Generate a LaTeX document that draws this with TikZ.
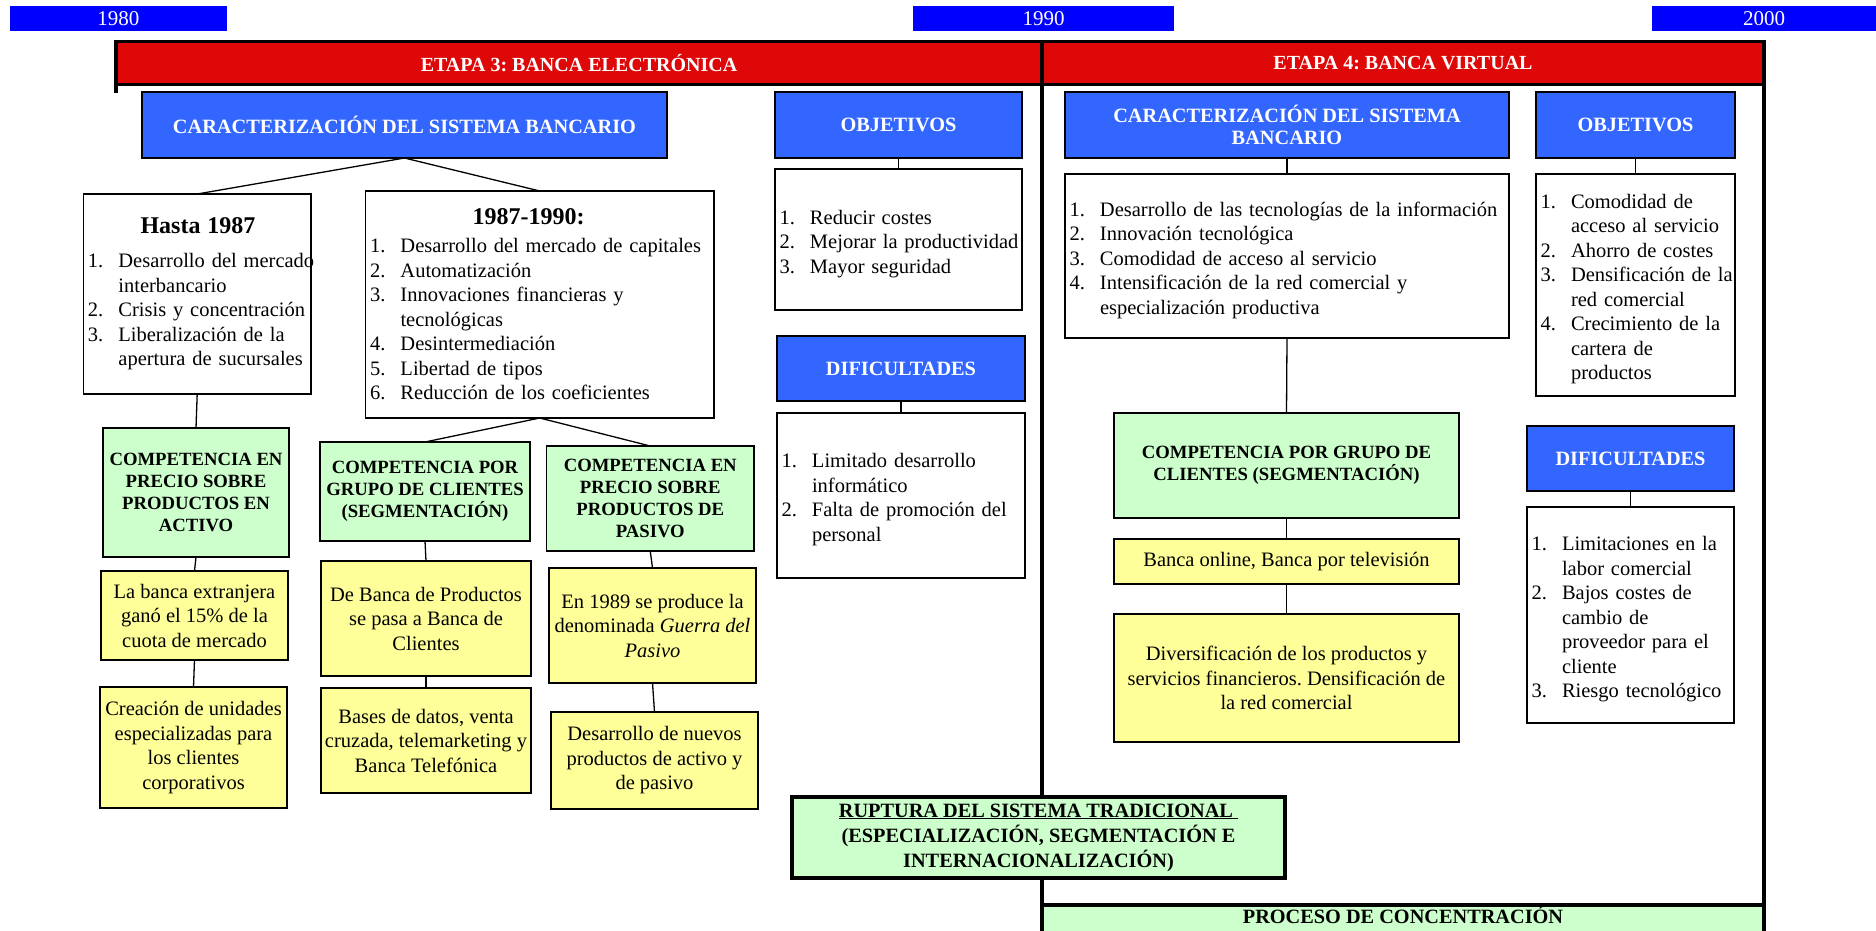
\documentclass[tikz,border=0pt]{standalone}
\usepackage{fontspec}
\setmainfont{Liberation Serif}
\usetikzlibrary{calc}
\frenchspacing

\definecolor{yearBlue}{RGB}{0,0,255}
\definecolor{headBlue}{RGB}{51,102,255}
\definecolor{stageRed}{RGB}{222,8,8}
\definecolor{compGreen}{RGB}{204,255,204}
\definecolor{noteYellow}{RGB}{255,255,153}

\newcommand{\bodyfont}{\fontsize{20.5}{24.5}\selectfont}
\newcommand{\titlefont}{\fontsize{24}{28}\selectfont\bfseries}
% numbered item and continuation line of a list
\newcommand{\itm}[2]{\mbox{\makebox[30.5pt][l]{#1}#2}}
\newcommand{\cnt}[1]{\mbox{\hspace*{30.5pt}#1}}
% taller first line for the plain lists
\newcommand{\toppad}{\rule{0pt}{22.5pt}}

% box placed by its corners: name, style, x1, y1, x2, y2, text
\newcommand{\bx}[7]{%
  \pgfmathsetmacro{\bxw}{#5-#3}%
  \pgfmathsetmacro{\bxh}{#6-#4}%
  \pgfmathsetmacro{\bxtw}{#5-#3-9}%
  \pgfmathsetmacro{\bxcx}{(#3+#5)/2}%
  \pgfmathsetmacro{\bxcy}{(#4+#6)/2}%
  \node[#2, minimum width=\bxw pt, minimum height=\bxh pt] (#1) at (\bxcx,\bxcy) {#7};%
}

\tikzset{
  base/.style={draw=black, line width=1.3pt, inner sep=0pt, outer sep=0pt},
  yearbox/.style={fill=yearBlue, inner sep=0pt, outer sep=0pt, text=white, font=\fontsize{21}{24}\selectfont},
  banner/.style={fill=stageRed, draw=black, line width=3.5pt, inner sep=0pt, outer sep=0pt, text=white, font=\bfseries\fontsize{20}{24}\selectfont},
  header/.style={base, fill=headBlue, text=white, align=center, font=\bfseries\fontsize{20.3}{22.7}\selectfont},
  listbox/.style={base, fill=white, inner xsep=4.5pt, text width=\bxtw pt, align=left, font=\bodyfont},
  comp/.style={base, fill=compGreen, align=center, font=\bfseries\fontsize{18.7}{22}\selectfont},
  note/.style={base, fill=noteYellow, align=center, font=\bodyfont},
  bigcomp/.style={base, line width=3.5pt, fill=compGreen, align=center, font=\bfseries\fontsize{20.3}{25}\selectfont},
  link/.style={draw=black, line width=1.3pt},
  frame/.style={draw=black, line width=3.5pt},
}

\begin{document}
\begin{tikzpicture}[x=1pt, y=-1pt]
\useasboundingbox (0,0) rectangle (1876,930);
\clip (0,0) rectangle (1876,930);

% timeline
\bx{y1980}{yearbox}{9.6}{6}{227}{31}{\raisebox{-2pt}{1980}}
\bx{y1990}{yearbox}{913}{6}{1174}{31}{\raisebox{-2pt}{1990}}
\bx{y2000}{yearbox}{1652}{6}{1876}{31}{\raisebox{-2pt}{2000}}

% stage banner
\bx{etapa3}{banner}{116}{41.7}{1042}{84.4}{ETAPA 3: BANCA ELECTRÓNICA}
\bx{etapa4}{banner}{1042}{41.7}{1764}{84.4}{ETAPA 4: BANCA VIRTUAL}

% frame lines below the banner
\coordinate (leftTick) at (116,93);
\coordinate (dividerEnd) at (1042,945);
\draw[frame] (etapa3.south west) -- (leftTick);
\draw[frame] (etapa4.south west) -- (dividerEnd);

% ---------- stage 3 ----------
\bx{caracA}{header}{142}{92}{667}{158}{CARACTERIZACIÓN DEL SISTEMA BANCARIO}

\bx{hasta}{listbox}{83.4}{194}{311}{394}{%
\hspace*{52.6pt}{\titlefont Hasta 1987}\\[9.5pt]
\itm{1.}{Desarrollo del mercado}\\
\cnt{interbancario}\\
\itm{2.}{Crisis y concentración}\\
\itm{3.}{Liberalización de la}\\
\cnt{apertura de sucursales}}

\bx{periodo}{listbox}{365.5}{191}{714}{418}{%
\hspace*{102.7pt}{\titlefont 1987-1990:}\\[3.5pt]
\itm{1.}{Desarrollo del mercado de capitales}\\
\itm{2.}{Automatización}\\
\itm{3.}{Innovaciones financieras y}\\
\cnt{tecnológicas}\\
\itm{4.}{Desintermediación}\\
\itm{5.}{Libertad de tipos}\\
\itm{6.}{Reducción de los coeficientes}}

\bx{compActivo}{comp}{103}{428}{289}{557}{COMPETENCIA EN\\PRECIO SOBRE\\PRODUCTOS EN\\ACTIVO}
\bx{compSegA}{comp}{320}{442}{530}{541}{COMPETENCIA POR\\GRUPO DE CLIENTES\\(SEGMENTACIÓN)}
\bx{compPasivo}{comp}{546.5}{446}{754}{551}{COMPETENCIA EN\\PRECIO SOBRE\\PRODUCTOS DE\\PASIVO}

\bx{extranjera}{note}{101}{571}{288}{660}{La banca extranjera\\ganó el 15\% de la\\cuota de mercado}
\bx{unidades}{note}{100}{687}{287}{808}{Creación de unidades\\especializadas para\\los clientes\\corporativos}
\bx{bancaProd}{note}{321}{561}{531}{676}{De Banca de Productos\\se pasa a Banca de\\Clientes}
\bx{basesDatos}{note}{321}{688}{531}{793}{Bases de datos, venta\\cruzada, telemarketing y\\Banca Telefónica}
\bx{guerra}{note}{549}{568}{756}{683}{En 1989 se produce la\\denominada \textit{Guerra del}\\\textit{Pasivo}}
\bx{nuevosProd}{note}{551}{712}{758}{809}{Desarrollo de nuevos\\productos de activo y\\de pasivo}

\bx{objA}{header}{775}{92}{1022}{158}{\raisebox{-1.5pt}{OBJETIVOS}}
\bx{objAlist}{listbox}{775}{169}{1022}{310}{%
\toppad\itm{1.}{Reducir costes}\\
\itm{2.}{Mejorar la productividad}\\
\itm{3.}{Mayor seguridad}}

\bx{difA}{header}{777}{336}{1025}{401}{DIFICULTADES}
\bx{difAlist}{listbox}{777}{413}{1025}{578}{%
\toppad\itm{1.}{Limitado desarrollo}\\
\cnt{informático}\\
\itm{2.}{Falta de promoción del}\\
\cnt{personal}}

% ---------- stage 4 ----------
\bx{caracB}{header}{1065}{92}{1509}{158}{CARACTERIZACIÓN DEL SISTEMA\\BANCARIO}
\bx{caracBlist}{listbox}{1065}{174}{1509}{338}{%
\toppad\itm{1.}{Desarrollo de las tecnologías de la información}\\
\itm{2.}{Innovación tecnológica}\\
\itm{3.}{Comodidad de acceso al servicio}\\
\itm{4.}{Intensificación de la red comercial y}\\
\cnt{especialización productiva}}

\bx{objB}{header}{1536}{92}{1735}{158}{\raisebox{-1.5pt}{OBJETIVOS}}
\bx{objBlist}{listbox}{1536}{174}{1735}{396}{%
\toppad\itm{1.}{Comodidad de}\\
\cnt{acceso al servicio}\\
\itm{2.}{Ahorro de costes}\\
\itm{3.}{Densificación de la}\\
\cnt{red comercial}\\
\itm{4.}{Crecimiento de la}\\
\cnt{cartera de}\\
\cnt{productos}}

\bx{compSegB}{comp}{1114}{413}{1459}{518}{COMPETENCIA POR GRUPO DE\\CLIENTES (SEGMENTACIÓN)}
\bx{online}{note}{1114}{539}{1459}{584}{Banca online, Banca por televisión}
\bx{diversif}{note}{1114}{614}{1459}{742}{Diversificación de los productos y\\servicios financieros. Densificación de\\la red comercial}

\bx{difB}{header}{1527}{426}{1734}{491}{DIFICULTADES}
\bx{difBlist}{listbox}{1527}{507}{1734}{723}{%
\toppad\itm{1.}{Limitaciones en la}\\
\cnt{labor comercial}\\
\itm{2.}{Bajos costes de}\\
\cnt{cambio de}\\
\cnt{proveedor para el}\\
\cnt{cliente}\\
\itm{3.}{Riesgo tecnológico}}

% ---------- bottom ----------
\bx{ruptura}{bigcomp}{792}{797}{1285}{878}{\underline{RUPTURA DEL SISTEMA TRADICIONAL\ }\\(ESPECIALIZACIÓN, SEGMENTACIÓN E\\INTERNACIONALIZACIÓN)}

\node[base, line width=3.5pt, fill=compGreen, anchor=north, minimum width=722pt,
      text height=14pt, text depth=30pt, inner ysep=4pt,
      font=\bfseries\fontsize{20.3}{24}\selectfont] (proceso) at (1403,905) {PROCESO DE CONCENTRACIÓN};
\draw[frame] (etapa4.south east) -- (proceso.north east);

% ---------- connectors ----------
\draw[link] (caracA.south) -- (hasta.north);
\draw[link] (caracA.south) -- (periodo.north);
\draw[link] (hasta.south) -- (compActivo.north);
\draw[link] (compActivo.south) -- (extranjera.north);
\draw[link] (extranjera.south) -- (unidades.north);
\draw[link] (periodo.south) -- (compSegA.north);
\draw[link] (periodo.south) -- (compPasivo.north);
\draw[link] (compSegA.south) -- (bancaProd.north);
\draw[link] (bancaProd.south) -- (basesDatos.north);
\draw[link] (compPasivo.south) -- (guerra.north);
\draw[link] (guerra.south) -- (nuevosProd.north);
\draw[link] (objA.south) -- (objAlist.north);
\draw[link] (difA.south) -- (difAlist.north);
\draw[link] (caracB.south) -- (caracBlist.north);
\draw[link] (caracBlist.south) -- (compSegB.north);
\draw[link] (compSegB.south) -- (online.north);
\draw[link] (online.south) -- (diversif.north);
\draw[link] (objB.south) -- (objBlist.north);
\draw[link] (difB.south) -- (difBlist.north);
\end{tikzpicture}
\end{document}
